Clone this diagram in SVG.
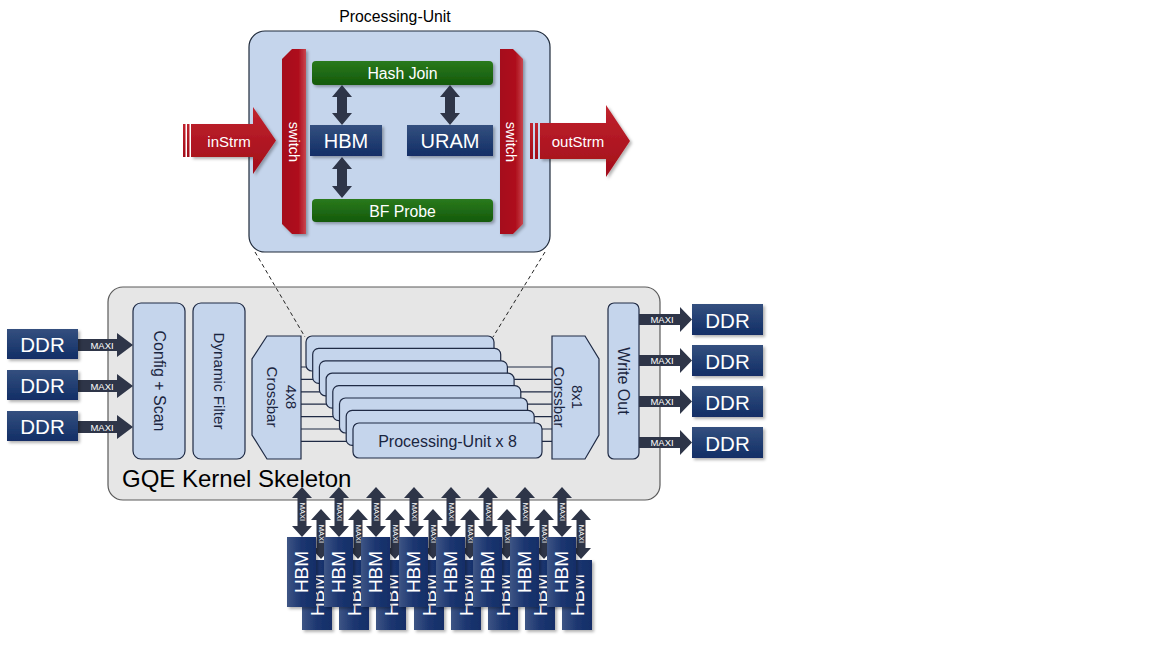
<svg xmlns="http://www.w3.org/2000/svg" width="1152" height="648" viewBox="0 0 1152 648">
<defs>
<linearGradient id="navy" x1="0" y1="0" x2="0" y2="1"><stop offset="0" stop-color="#34507f"/><stop offset="1" stop-color="#122e66"/></linearGradient>
<linearGradient id="navyH" x1="0" y1="0" x2="1" y2="0"><stop offset="0" stop-color="#3e5585"/><stop offset="0.5" stop-color="#1c3670"/><stop offset="1" stop-color="#132e68"/></linearGradient>
<linearGradient id="green" x1="0" y1="0" x2="0" y2="1"><stop offset="0" stop-color="#2a7a1c"/><stop offset="1" stop-color="#145a0c"/></linearGradient>
<linearGradient id="redV" x1="0" y1="0" x2="0" y2="1"><stop offset="0" stop-color="#c0232e"/><stop offset="1" stop-color="#a20d19"/></linearGradient>
<linearGradient id="redH" x1="0" y1="0" x2="1" y2="0"><stop offset="0" stop-color="#a50e1b"/><stop offset="0.7" stop-color="#af111e"/><stop offset="1" stop-color="#c9464f"/></linearGradient>
<filter id="sh" x="-20%" y="-20%" width="150%" height="150%"><feDropShadow dx="2" dy="2" stdDeviation="1.5" flood-color="#000" flood-opacity="0.3"/></filter>
<style>
text{font-family:"Liberation Sans",Arial,sans-serif}
.w{fill:#fff;text-anchor:middle;dominant-baseline:central}
.k{fill:#1a2540;text-anchor:middle;dominant-baseline:central}
.lb{fill:#c5d5ec;stroke:#1f2a44;stroke-width:1.2}
.dk{fill:#2e3548}
.mx{fill:#fff;font-size:9.5px;text-anchor:middle;dominant-baseline:central}
.mv{fill:#fff;font-size:7.5px;text-anchor:middle;dominant-baseline:central}
.nv{fill:url(#navy);filter:url(#sh)}
.hb{fill:url(#navyH);filter:url(#sh)}
.ln{stroke:#1f2a44;stroke-width:1.2;fill:none}
</style>
</defs>
<rect width="1152" height="648" fill="#fff"/>

<!-- Processing Unit detail -->
<g id="pu-detail">
<text x="395" y="16" font-size="15.8" fill="#000" text-anchor="middle" dominant-baseline="central">Processing-Unit</text>
<rect x="249" y="31" width="301" height="221" rx="16" fill="#c5d5ec" stroke="#1f2a3a" stroke-width="1.2"/>
</g>
<g id="switch-left">
<path d="M292,49 L306,49 L306,234 L292,234 L282,224 L282,59 Z" fill="url(#redH)" filter="url(#sh)"/>
<text class="w" font-size="14.5" transform="translate(294,142) rotate(90)">switch</text>
</g>
<g id="switch-right">
<path d="M500,49 L513,49 L523,59 L523,224 L513,234 L500,234 Z" fill="url(#redH)" filter="url(#sh)"/>
<text class="w" font-size="14.5" transform="translate(511,142) rotate(90)">switch</text>
</g>
<g id="hash-join">
<rect x="312" y="61" width="181" height="24" rx="4" fill="url(#green)" filter="url(#sh)"/>
<text class="w" x="402.5" y="73.5" font-size="15.8">Hash Join</text>
</g>
<g id="bf-probe">
<rect x="312" y="199" width="181" height="23" rx="4" fill="url(#green)" filter="url(#sh)"/>
<text class="w" x="402.5" y="211" font-size="15.8">BF Probe</text>
</g>
<g id="hbm-pu">
<rect x="310" y="125" width="72" height="31" class="nv"/>
<text class="w" x="346" y="141" font-size="20">HBM</text>
</g>
<g id="uram">
<rect x="407" y="125" width="86" height="31" class="nv"/>
<text class="w" x="450" y="141" font-size="20">URAM</text>
</g>
<g id="instrm">
<rect x="183" y="124" width="2.5" height="33" fill="url(#redV)"/>
<rect x="187" y="124" width="2.5" height="33" fill="url(#redV)"/>
<path d="M191,124 L253,124 L253,107 L276,140.5 L253,174 L253,157 L191,157 Z" fill="url(#redV)" filter="url(#sh)"/>
<text class="w" x="229" y="141" font-size="15">inStrm</text>
</g>
<g id="outstrm">
<rect x="530" y="123" width="3" height="36" fill="url(#redV)"/>
<rect x="535" y="123" width="3" height="36" fill="url(#redV)"/>
<path d="M540,123 L606,123 L606,105 L630,141 L606,177 L606,159 L540,159 Z" fill="url(#redV)" filter="url(#sh)"/>
<text class="w" x="578" y="141" font-size="15">outStrm</text>
</g>

<!-- GQE kernel -->
<g id="gqe-kernel">
<rect x="108" y="287" width="552" height="213" rx="15" fill="#e6e6e6" stroke="#5a5a5a" stroke-width="1.2"/>
<text x="122" y="478" font-size="24" fill="#000" dominant-baseline="central">GQE Kernel Skeleton</text>
</g>
<g id="config-scan">
<rect x="133" y="303" width="52" height="156" rx="8" class="lb"/>
<text class="k" font-size="16" transform="translate(159,381) rotate(90)">Config + Scan</text>
</g>
<g id="dynamic-filter">
<rect x="193" y="303" width="52" height="156" rx="8" class="lb"/>
<text class="k" font-size="15.2" transform="translate(219,381) rotate(90)">Dynamic Filter</text>
</g>
<g id="write-out">
<rect x="608" y="303" width="31" height="156" rx="6" class="lb"/>
<text class="k" font-size="16" transform="translate(623.5,381) rotate(90)">Write Out</text>
</g>

<!-- connectors -->
<g id="connectors">
<line x1="255" y1="252" x2="305" y2="337" stroke="#222" stroke-width="1" stroke-dasharray="4,3"/>
<line x1="545" y1="252" x2="493" y2="337" stroke="#222" stroke-width="1" stroke-dasharray="4,3"/>
<g class="ln">
<line x1="301" y1="367" x2="552" y2="367"/>
<line x1="301" y1="379.4" x2="552" y2="379.4"/>
<line x1="301" y1="391.8" x2="552" y2="391.8"/>
<line x1="301" y1="404.2" x2="552" y2="404.2"/>
<line x1="301" y1="416.6" x2="552" y2="416.6"/>
<line x1="301" y1="429" x2="552" y2="429"/>
<line x1="301" y1="441.4" x2="552" y2="441.4"/>
</g>
<path class="dk" d="M342,85 L352,97 L347,97 L347,113 L352,113 L342,125 L332,113 L337,113 L337,97 L332,97 Z"/>
<path class="dk" d="M450,85 L460,97 L455,97 L455,113 L460,113 L450,125 L440,113 L445,113 L445,97 L440,97 Z"/>
<path class="dk" d="M342,157 L352,169 L347,169 L347,186 L352,186 L342,198 L332,186 L337,186 L337,169 L332,169 Z"/>
<!-- left MAXI -->
<path class="dk" d="M78,339 L117,339 L117,333 L133,345 L117,357 L117,351 L78,351 Z"/>
<text class="mx" x="102" y="345">MAXI</text>
<path class="dk" d="M78,380 L117,380 L117,374 L133,386 L117,398 L117,392 L78,392 Z"/>
<text class="mx" x="102" y="386">MAXI</text>
<path class="dk" d="M78,421 L117,421 L117,415 L133,427 L117,439 L117,433 L78,433 Z"/>
<text class="mx" x="102" y="427">MAXI</text>
<!-- right MAXI -->
<path class="dk" d="M639,314 L680,314 L680,307 L692,319.5 L680,332 L680,325 L639,325 Z"/>
<text class="mx" x="662" y="319.5">MAXI</text>
<path class="dk" d="M639,355 L680,355 L680,348 L692,360.5 L680,373 L680,366 L639,366 Z"/>
<text class="mx" x="662" y="360.5">MAXI</text>
<path class="dk" d="M639,396 L680,396 L680,389 L692,401.5 L680,414 L680,407 L639,407 Z"/>
<text class="mx" x="662" y="401.5">MAXI</text>
<path class="dk" d="M639,437 L680,437 L680,430 L692,442.5 L680,455 L680,448 L639,448 Z"/>
<text class="mx" x="662" y="442.5">MAXI</text>
</g>

<!-- crossbars -->
<g id="crossbar-4x8">
<path d="M267,336 L301,336 L301,459 L267,459 L252,435 L252,359 Z" class="lb"/>
<text class="k" font-size="15" transform="translate(292,397) rotate(90)"><tspan x="0" y="0">4x8</tspan><tspan x="0" y="19">Crossbar</tspan></text>
</g>
<g id="crossbar-8x1">
<path d="M552,336 L585,336 L599,359 L599,435 L585,459 L552,459 Z" class="lb"/>
<text class="k" font-size="15" transform="translate(578,397) rotate(90)"><tspan x="0" y="0">8x1</tspan><tspan x="0" y="18">Corssbar</tspan></text>
</g>

<!-- stacked processing units -->
<g id="pu-stack">
<rect x="306" y="336" width="188" height="35" rx="6" class="lb"/>
<rect x="312.7" y="348.4" width="188" height="35" rx="6" class="lb"/>
<rect x="319.4" y="360.8" width="188" height="35" rx="6" class="lb"/>
<rect x="326.1" y="373.2" width="188" height="35" rx="6" class="lb"/>
<rect x="332.8" y="385.6" width="188" height="35" rx="6" class="lb"/>
<rect x="339.5" y="398" width="188" height="35" rx="6" class="lb"/>
<rect x="346.2" y="410.4" width="188" height="35" rx="6" class="lb"/>
<rect x="353" y="423" width="189" height="35" rx="6" class="lb"/>
<text class="k" x="447.5" y="441" font-size="16">Processing-Unit x 8</text>
</g>

<!-- DDR -->
<g id="ddr-l1"><rect x="7" y="329" width="71" height="30" class="nv"/><text class="w" x="42.5" y="344.5" font-size="20.5">DDR</text></g>
<g id="ddr-l2"><rect x="7" y="370" width="71" height="30" class="nv"/><text class="w" x="42.5" y="385.5" font-size="20.5">DDR</text></g>
<g id="ddr-l3"><rect x="7" y="411" width="71" height="30" class="nv"/><text class="w" x="42.5" y="426.5" font-size="20.5">DDR</text></g>
<g id="ddr-r1"><rect x="692" y="304" width="71" height="31" class="nv"/><text class="w" x="727.5" y="320" font-size="20.5">DDR</text></g>
<g id="ddr-r2"><rect x="692" y="345" width="71" height="31" class="nv"/><text class="w" x="727.5" y="361" font-size="20.5">DDR</text></g>
<g id="ddr-r3"><rect x="692" y="386" width="71" height="31" class="nv"/><text class="w" x="727.5" y="402" font-size="20.5">DDR</text></g>
<g id="ddr-r4"><rect x="692" y="427" width="71" height="31" class="nv"/><text class="w" x="727.5" y="443" font-size="20.5">DDR</text></g>

<!-- HBM back row -->
<g id="hbm-back">
<rect x="302" y="560" width="30" height="70" class="hb"/><text class="w" font-size="19" transform="translate(317,595) rotate(-90)">HBM</text>
<rect x="339" y="560" width="30" height="70" class="hb"/><text class="w" font-size="19" transform="translate(354,595) rotate(-90)">HBM</text>
<rect x="376" y="560" width="30" height="70" class="hb"/><text class="w" font-size="19" transform="translate(391,595) rotate(-90)">HBM</text>
<rect x="414" y="560" width="30" height="70" class="hb"/><text class="w" font-size="19" transform="translate(429,595) rotate(-90)">HBM</text>
<rect x="451" y="560" width="30" height="70" class="hb"/><text class="w" font-size="19" transform="translate(466,595) rotate(-90)">HBM</text>
<rect x="488" y="560" width="30" height="70" class="hb"/><text class="w" font-size="19" transform="translate(503,595) rotate(-90)">HBM</text>
<rect x="525" y="560" width="30" height="70" class="hb"/><text class="w" font-size="19" transform="translate(540,595) rotate(-90)">HBM</text>
<rect x="562" y="560" width="30" height="70" class="hb"/><text class="w" font-size="19" transform="translate(577,595) rotate(-90)">HBM</text>
</g>
<g id="hbm-back-arrows">
<path class="dk" d="M321,509 L331,520 L325.5,520 L325.5,548 L331,548 L321,559 L311,548 L316.5,548 L316.5,520 L311,520 Z"/><text class="mv" transform="translate(321,534) rotate(90)">MAXI</text>
<path class="dk" d="M358,509 L368,520 L362.5,520 L362.5,548 L368,548 L358,559 L348,548 L353.5,548 L353.5,520 L348,520 Z"/><text class="mv" transform="translate(358,534) rotate(90)">MAXI</text>
<path class="dk" d="M395,509 L405,520 L399.5,520 L399.5,548 L405,548 L395,559 L385,548 L390.5,548 L390.5,520 L385,520 Z"/><text class="mv" transform="translate(395,534) rotate(90)">MAXI</text>
<path class="dk" d="M433,509 L443,520 L437.5,520 L437.5,548 L443,548 L433,559 L423,548 L428.5,548 L428.5,520 L423,520 Z"/><text class="mv" transform="translate(433,534) rotate(90)">MAXI</text>
<path class="dk" d="M470,509 L480,520 L474.5,520 L474.5,548 L480,548 L470,559 L460,548 L465.5,548 L465.5,520 L460,520 Z"/><text class="mv" transform="translate(470,534) rotate(90)">MAXI</text>
<path class="dk" d="M507,509 L517,520 L511.5,520 L511.5,548 L517,548 L507,559 L497,548 L502.5,548 L502.5,520 L497,520 Z"/><text class="mv" transform="translate(507,534) rotate(90)">MAXI</text>
<path class="dk" d="M544,509 L554,520 L548.5,520 L548.5,548 L554,548 L544,559 L534,548 L539.5,548 L539.5,520 L534,520 Z"/><text class="mv" transform="translate(544,534) rotate(90)">MAXI</text>
<path class="dk" d="M581,509 L591,520 L585.5,520 L585.5,548 L591,548 L581,559 L571,548 L576.5,548 L576.5,520 L571,520 Z"/><text class="mv" transform="translate(581,534) rotate(90)">MAXI</text>
</g>
<!-- HBM front row -->
<g id="hbm-front">
<rect x="287" y="537" width="29" height="70" class="hb"/><text class="w" font-size="19" transform="translate(301.5,572) rotate(-90)">HBM</text>
<rect x="324" y="537" width="29" height="70" class="hb"/><text class="w" font-size="19" transform="translate(338.5,572) rotate(-90)">HBM</text>
<rect x="361" y="537" width="29" height="70" class="hb"/><text class="w" font-size="19" transform="translate(375.5,572) rotate(-90)">HBM</text>
<rect x="399" y="537" width="29" height="70" class="hb"/><text class="w" font-size="19" transform="translate(413.5,572) rotate(-90)">HBM</text>
<rect x="436" y="537" width="29" height="70" class="hb"/><text class="w" font-size="19" transform="translate(450.5,572) rotate(-90)">HBM</text>
<rect x="473" y="537" width="29" height="70" class="hb"/><text class="w" font-size="19" transform="translate(487.5,572) rotate(-90)">HBM</text>
<rect x="510" y="537" width="29" height="70" class="hb"/><text class="w" font-size="19" transform="translate(524.5,572) rotate(-90)">HBM</text>
<rect x="547" y="537" width="29" height="70" class="hb"/><text class="w" font-size="19" transform="translate(561.5,572) rotate(-90)">HBM</text>
</g>
<g id="hbm-front-arrows">
<path class="dk" d="M302,487 L312,498 L306.5,498 L306.5,526 L312,526 L302,537 L292,526 L297.5,526 L297.5,498 L292,498 Z"/><text class="mv" transform="translate(302,512) rotate(90)">MAXI</text>
<path class="dk" d="M339,487 L349,498 L343.5,498 L343.5,526 L349,526 L339,537 L329,526 L334.5,526 L334.5,498 L329,498 Z"/><text class="mv" transform="translate(339,512) rotate(90)">MAXI</text>
<path class="dk" d="M376,487 L386,498 L380.5,498 L380.5,526 L386,526 L376,537 L366,526 L371.5,526 L371.5,498 L366,498 Z"/><text class="mv" transform="translate(376,512) rotate(90)">MAXI</text>
<path class="dk" d="M414,487 L424,498 L418.5,498 L418.5,526 L424,526 L414,537 L404,526 L409.5,526 L409.5,498 L404,498 Z"/><text class="mv" transform="translate(414,512) rotate(90)">MAXI</text>
<path class="dk" d="M451,487 L461,498 L455.5,498 L455.5,526 L461,526 L451,537 L441,526 L446.5,526 L446.5,498 L441,498 Z"/><text class="mv" transform="translate(451,512) rotate(90)">MAXI</text>
<path class="dk" d="M488,487 L498,498 L492.5,498 L492.5,526 L498,526 L488,537 L478,526 L483.5,526 L483.5,498 L478,498 Z"/><text class="mv" transform="translate(488,512) rotate(90)">MAXI</text>
<path class="dk" d="M525,487 L535,498 L529.5,498 L529.5,526 L535,526 L525,537 L515,526 L520.5,526 L520.5,498 L515,498 Z"/><text class="mv" transform="translate(525,512) rotate(90)">MAXI</text>
<path class="dk" d="M562,487 L572,498 L566.5,498 L566.5,526 L572,526 L562,537 L552,526 L557.5,526 L557.5,498 L552,498 Z"/><text class="mv" transform="translate(562,512) rotate(90)">MAXI</text>
</g>
</svg>
